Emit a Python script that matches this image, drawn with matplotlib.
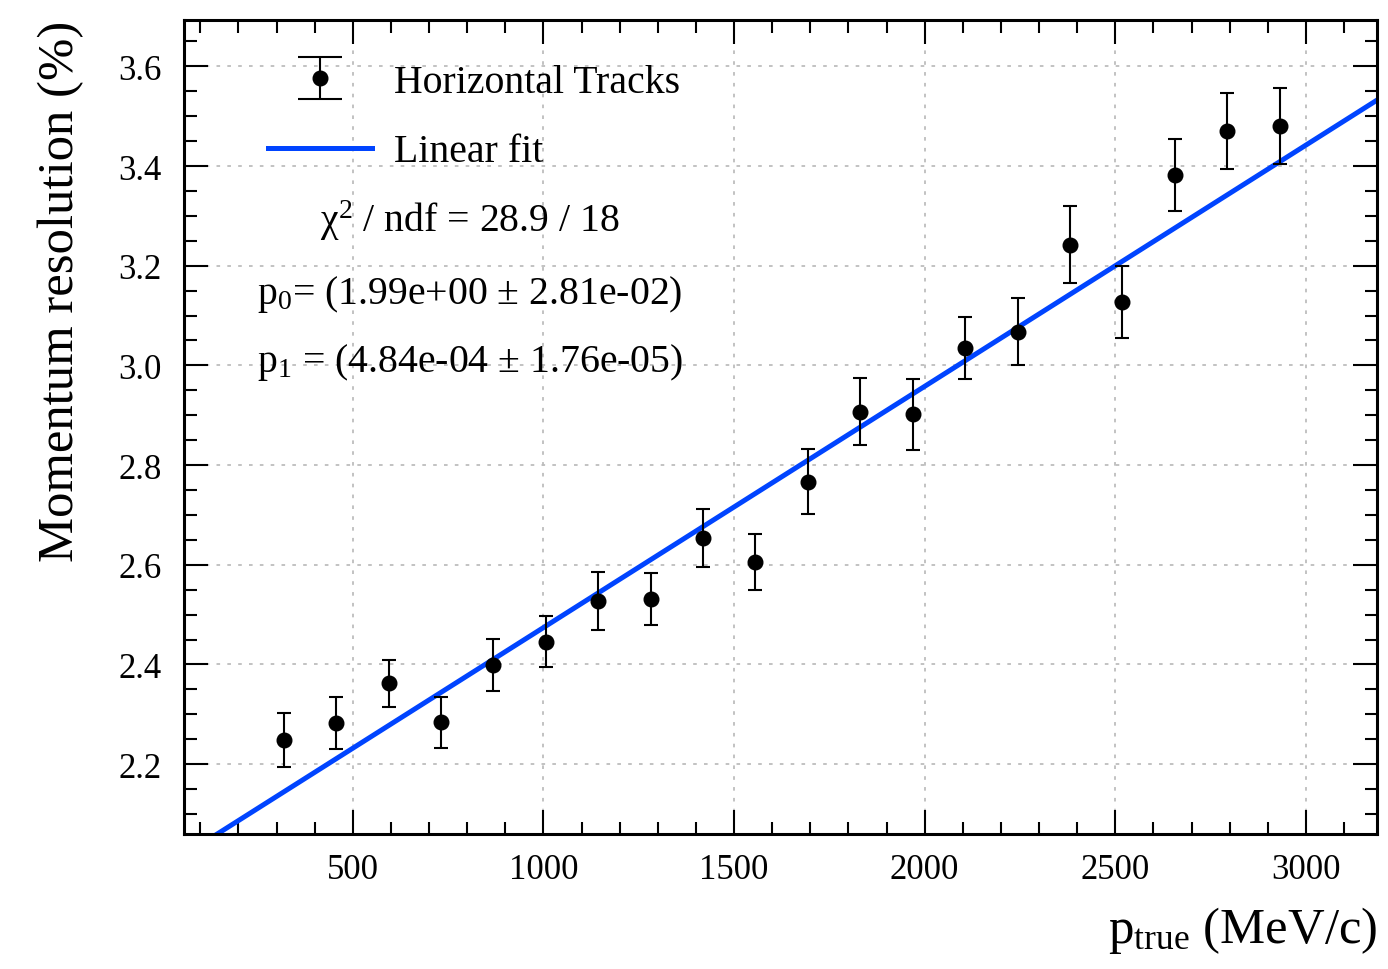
import matplotlib
matplotlib.use("Agg")
import matplotlib.pyplot as plt
import numpy as np
from matplotlib.lines import Line2D
from matplotlib.legend_handler import HandlerErrorbar
from matplotlib.ticker import MultipleLocator, FormatStrFormatter

plt.rcParams['font.family'] = 'Liberation Serif'
plt.rcParams['mathtext.fontset'] = 'custom'
plt.rcParams['mathtext.rm'] = 'Liberation Serif'
plt.rcParams['mathtext.it'] = 'Liberation Serif:italic'

# bin centres (MeV/c), 20 bins from 250 to 3000
p_true = [318.75, 456.25, 593.75, 731.25, 868.75, 1006.25, 1143.75, 1281.25,
          1418.75, 1556.25, 1693.75, 1831.25, 1968.75, 2106.25, 2243.75,
          2381.25, 2518.75, 2656.25, 2793.75, 2931.25]
resolution = [2.248, 2.283, 2.362, 2.284, 2.399, 2.446, 2.528, 2.531, 2.653,
              2.605, 2.767, 2.907, 2.902, 3.035, 3.068, 3.242, 3.127, 3.382,
              3.470, 3.480]
res_err = [0.054, 0.052, 0.048, 0.051, 0.052, 0.052, 0.058, 0.052, 0.058,
           0.056, 0.065, 0.067, 0.071, 0.062, 0.068, 0.077, 0.072, 0.072,
           0.077, 0.076]

# linear fit result
p0, p0_err = 1.99, 2.81e-02
p1, p1_err = 4.84e-04, 1.76e-05
chi2, ndf = 28.9, 18

XMIN, XMAX = 57.5, 3187.5
YMIN, YMAX = 2.06, 3.693


class BigCapHandler(HandlerErrorbar):
    # wider caps on the legend key than on the points
    def create_artists(self, *args, **kwargs):
        arts = super().create_artists(*args, **kwargs)
        for a in arts:
            if isinstance(a, Line2D) and a.get_marker() == '_':
                a.set_markersize(31)
        return arts


fig = plt.figure(figsize=(13.88, 9.70), dpi=100)
ax = fig.add_axes([0.1326, 0.1392, 0.8598, 0.8392])

xfit = np.array([XMIN, XMAX])
fit_line, = ax.plot(xfit, p0 + p1 * xfit, color='#0044ff', lw=3.6, zorder=2)

eb = ax.errorbar(p_true, resolution, yerr=res_err, fmt='o', color='black',
                 ms=10.5, elinewidth=1.5, capsize=5.3, capthick=1.5, zorder=3)

ax.set_xlim(XMIN, XMAX)
ax.set_ylim(YMIN, YMAX)

ax.xaxis.set_major_locator(MultipleLocator(500))
ax.xaxis.set_minor_locator(MultipleLocator(100))
ax.yaxis.set_major_locator(MultipleLocator(0.2))
ax.yaxis.set_minor_locator(MultipleLocator(0.05))
ax.yaxis.set_major_formatter(FormatStrFormatter('%.1f'))

ax.tick_params(which='both', direction='in', top=True, right=True,
               width=1.5, labelsize=25)
ax.tick_params(which='major', length=17)
ax.tick_params(which='minor', length=9)
ax.tick_params(axis='x', which='major', pad=14)
ax.tick_params(axis='y', which='major', pad=16)

for s in ax.spines.values():
    s.set_linewidth(2.2)

ax.grid(True, which='major', linestyle=(0, (2, 4)), color='#bdbdbd', lw=1.3)
ax.set_axisbelow(True)

ax.set_xlabel(r'$\mathrm{p}_{\mathrm{true}}$ (MeV/c)', fontsize=36.5,
              loc='right', labelpad=13)
ax.set_ylabel('Momentum resolution (%)', fontsize=36.5, loc='top', labelpad=25)

leg = ax.legend([eb, fit_line], ['Horizontal Tracks', 'Linear fit'],
                loc='upper left', bbox_to_anchor=(0.0704, 0.946),
                frameon=False, fontsize=28.6, handlelength=2.62,
                handletextpad=0.55, labelspacing=0.82, borderpad=0,
                borderaxespad=0,
                handler_map={type(eb): BigCapHandler(yerr_size=0.53)})

ax.text(0.2396, 0.7408, r'$\mathrm{χ}^{2}$ / ndf = %.1f / %d' % (chi2, ndf),
        transform=ax.transAxes, ha='center', va='baseline', fontsize=28.6)
ax.text(0.418, 0.6523, r'$\mathrm{p}_{0}$= (%.2e $\pm$ %.2e)' % (p0, p0_err),
        transform=ax.transAxes, ha='right', va='baseline', fontsize=28.6)
ax.text(0.418, 0.5688, r'$\mathrm{p}_{1}$ = (%.2e $\pm$ %.2e)' % (p1, p1_err),
        transform=ax.transAxes, ha='right', va='baseline', fontsize=28.6)

fig.savefig('out.png', dpi=100)
